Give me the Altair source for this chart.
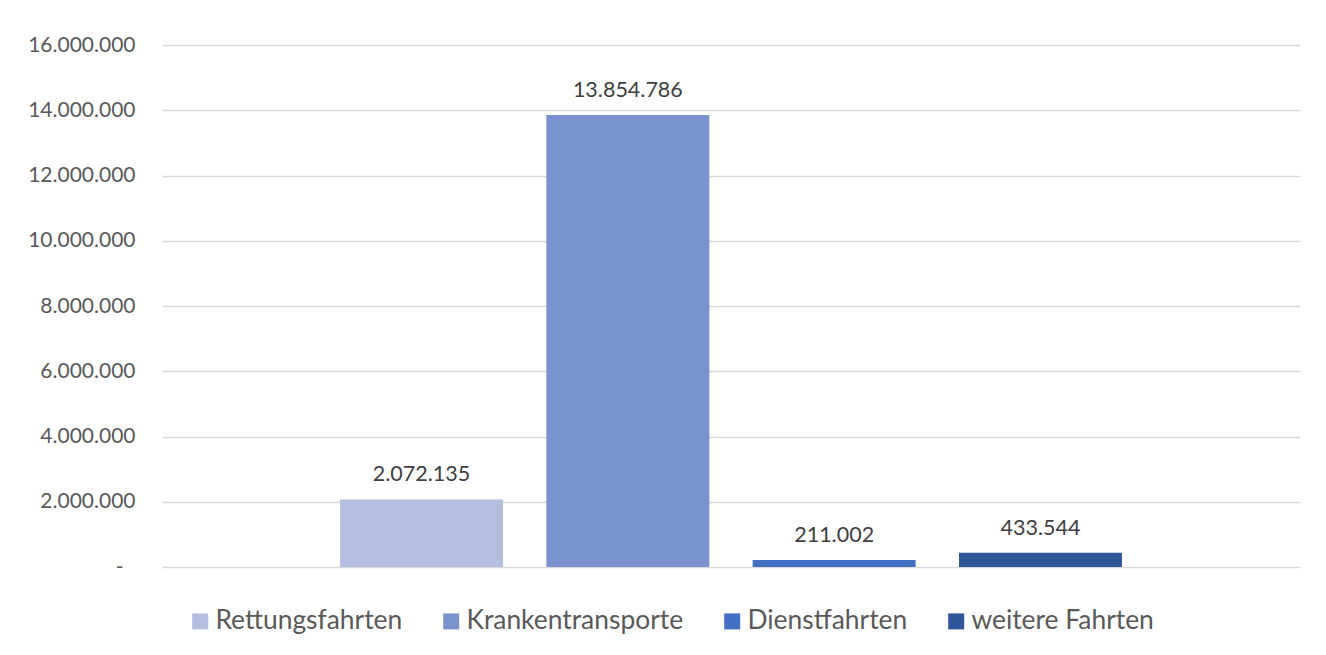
import altair as alt
import pandas as pd

series = ["Rettungsfahrten", "Krankentransporte", "Dienstfahrten", "weitere Fahrten"]
values = [2072135, 13854786, 211002, 433544]
colors = ["#B4BFE0", "#7A93CF", "#4370C2", "#30569A"]
y_ticks = [0, 2000000, 4000000, 6000000, 8000000, 10000000, 12000000, 14000000, 16000000]

df = pd.DataFrame({"Serie": series, "Wert": values})

FONT = "Lato"

x_scale = alt.Scale(paddingInner=0.21, paddingOuter=0.863)

base = alt.Chart(df)

bars = base.mark_bar().encode(
    x=alt.X("Serie:N", sort=series, axis=None, scale=x_scale),
    y=alt.Y("Wert:Q",
            scale=alt.Scale(domain=[0, 16000000], nice=False),
            axis=alt.Axis(values=y_ticks, title=None, domain=False, ticks=False,
                          labelPadding={"condition": {"test": "datum.value === 0", "value": 39}, "value": 27},
                          labelFont=FONT, labelFontSize=21,
                          labelColor="#595959", gridColor="#D9D9D9", gridWidth=1.5,
                          labelExpr="datum.value == 0 ? '-' : replace(format(datum.value, ',d'), regexp(',', 'g'), '.')")),
    color=alt.Color("Serie:N", sort=series,
                    scale=alt.Scale(domain=series, range=colors),
                    legend=alt.Legend(title=None, orient="none", direction="horizontal",
                                      legendX=25, legendY=563,
                                      symbolType="square", symbolSize=256,
                                      symbolStrokeWidth=0, symbolOpacity=1,
                                      labelFont=FONT, labelFontSize=26.4, labelLimit=400,
                                      labelColor="#595959", columnPadding=35,
                                      labelOffset=2, symbolOffset=0)),
)

labels = base.transform_calculate(
    lab="replace(format(datum.Wert, ',d'), regexp(',', 'g'), '.')"
).mark_text(baseline="alphabetic", dy=-18, font=FONT, fontSize=21.5, color="#404040").encode(
    x=alt.X("Serie:N", sort=series, axis=None, scale=x_scale, bandPosition=0.5),
    y=alt.Y("Wert:Q"),
    text="lab:N",
)

chart = (bars + labels).properties(
    width=1138, height=522,
    autosize=alt.AutoSizeParams(type="none"),
    padding={"left": 154, "top": 37, "right": 18, "bottom": 80},
).configure(background="white").configure_view(strokeWidth=0)

chart.save("out.html", embed_options={"renderer": "svg", "actions": False})
